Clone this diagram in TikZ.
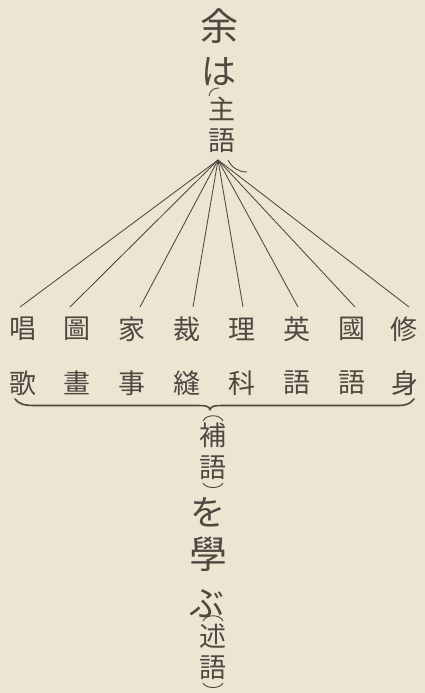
\documentclass[tikz,border=0pt]{standalone}
\usepackage{fontspec}
\newfontfamily\cjk{Noto Sans CJK JP}
\definecolor{paper}{RGB}{237,228,210}
\definecolor{ink}{RGB}{78,72,64}
\begin{document}
\begin{tikzpicture}[x=1pt,y=-1pt,
  big/.style={font=\cjk\fontsize{38}{38}\selectfont, text=ink, inner sep=0pt},
  kana/.style={font=\cjk\fontsize{35}{35}\selectfont, text=ink, inner sep=0pt},
  mid/.style={font=\cjk\fontsize{27}{27}\selectfont, text=ink, inner sep=0pt},
  small/.style={font=\cjk\fontsize{27}{27}\selectfont, text=ink, inner sep=0pt},
  ray/.style={draw=ink, line width=0.85pt},
  paren/.style={draw=ink, line width=0.9pt},
  bracepath/.style={draw=ink, line width=1.6pt, line cap=round}]
\fill[paper] (0,0) rectangle (425,693);
\useasboundingbox (0,0) rectangle (425,693);

% upper column: subject
\node[big]   (yo)  at (219,26)  {余};
\node[kana]  (ha)  at (219,72)  {は};
\node[small] (shu) at (222,109) {主};
\node[small] (go1) at (222,141) {語};
\draw[paren] (209,96) .. controls (210,90) and (214,88) .. (219,88);
\draw[paren] (228,160) .. controls (232,168) and (239,172) .. (247,172);

% apex of the fan
\coordinate (apex) at (218,160);

% first row
\node[mid] (r1) at (23,329)  {唱};
\node[mid] (r2) at (77,329)  {圖};
\node[mid] (r3) at (132,329) {家};
\node[mid] (r4) at (187,329) {裁};
\node[mid] (r5) at (242,329) {理};
\node[mid] (r6) at (297,329) {英};
\node[mid] (r7) at (352,329) {國};
\node[mid] (r8) at (404,329) {修};

% second row
\node[mid] (s1) at (23,383)  {歌};
\node[mid] (s2) at (77,383)  {畫};
\node[mid] (s3) at (132,383) {事};
\node[mid] (s4) at (187,383) {縫};
\node[mid] (s5) at (242,383) {科};
\node[mid] (s6) at (297,383) {語};
\node[mid] (s7) at (352,383) {語};
\node[mid] (s8) at (405,383) {身};

% ray ends above the first row
\coordinate (e1) at (20,307);
\coordinate (e2) at (70,307);
\coordinate (e3) at (140,307);
\coordinate (e4) at (193,307);
\coordinate (e5) at (243,307);
\coordinate (e6) at (298,307);
\coordinate (e7) at (355,307);
\coordinate (e8) at (409,307);
\foreach \i in {1,...,8} \draw[ray] (apex) -- (e\i);

% brace under the rows
\draw[bracepath] (15,399) .. controls (19,404) and (24,405.5) .. (34,405.5)
  -- (198,405.5) .. controls (205,405.5) and (209,406) .. (210,409.5)
  .. controls (211,406) and (215,405.5) .. (222,405.5)
  -- (398,405.5) .. controls (406,405.5) and (410,404) .. (414,399);

% lower column: complement and predicate
\node[small] (ho)  at (213,435) {補};
\node[small] (go2) at (213,468) {語};
\node[kana]  (wo)  at (208,512) {を};
\node[big]   (man) at (208,554) {學};
\node[kana]  (bu)  at (207,604) {ぶ};
\node[small] (jut) at (213,636) {述};
\node[small] (go3) at (213,668) {語};
\draw[paren] (203,421) .. controls (206,414) and (220,414) .. (223,421);
\draw[paren] (203,483) .. controls (206,489) and (220,489) .. (223,483);
\draw[paren] (203,621) .. controls (206,614) and (220,614) .. (223,621);
\draw[paren] (203,683) .. controls (206,689) and (220,689) .. (223,683);
\end{tikzpicture}
\end{document}
